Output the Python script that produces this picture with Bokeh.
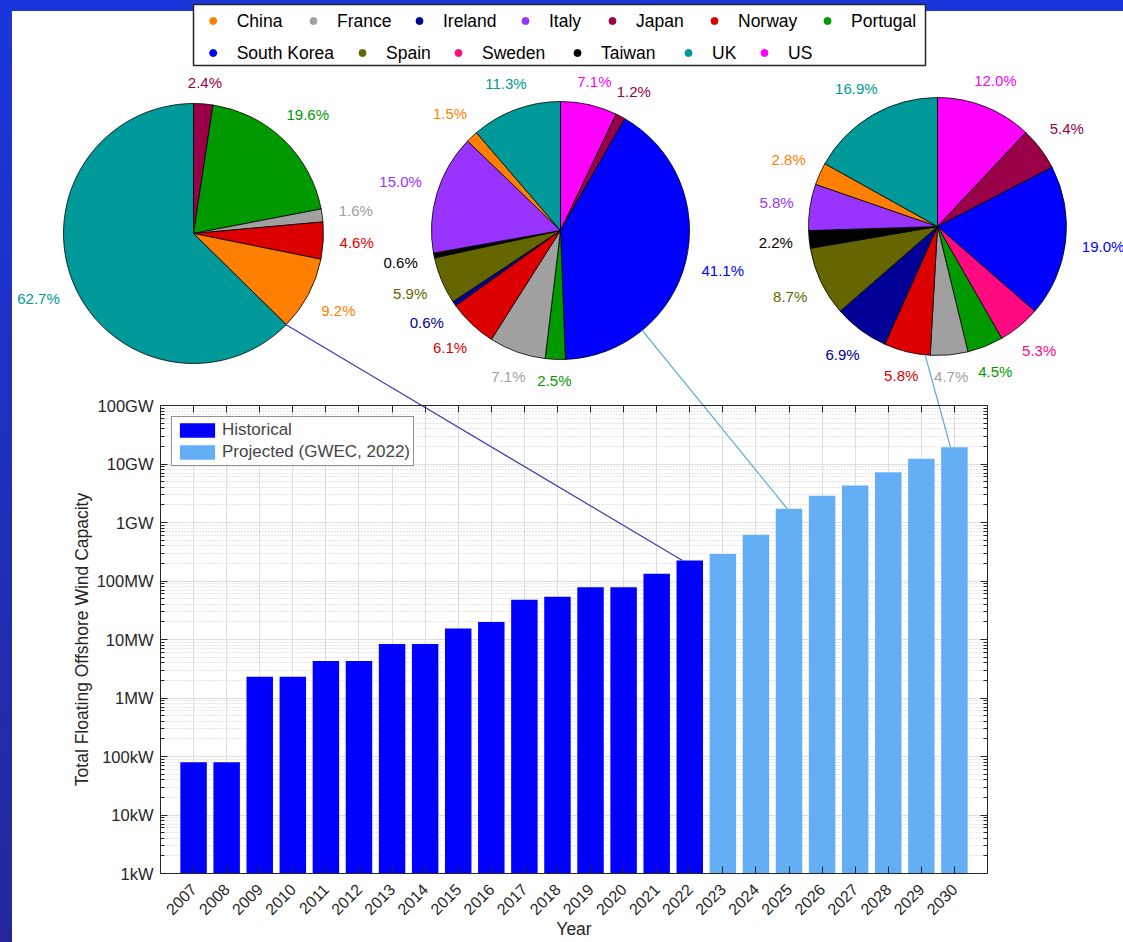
import math
from bokeh.plotting import figure
from bokeh.layouts import column
from bokeh.models import (Range1d, LogAxis, LinearAxis, FixedTicker, Legend,
                          LegendItem, ColumnDataSource)
from bokeh.core.properties import value
from bokeh.embed import file_html
from bokeh.resources import INLINE

FONT = "Liberation Sans"

# ---------------- data ----------------
years_hist = [2007, 2008, 2009, 2010, 2011, 2012, 2013, 2014,
              2015, 2016, 2017, 2018, 2019, 2020, 2021, 2022]
cap_hist_w = [8.0e4, 8.0e4, 2.3e6, 2.3e6, 4.3e6, 4.3e6, 8.4e6, 8.4e6,
              1.54e7, 2.0e7, 4.8e7, 5.4e7, 7.8e7, 7.8e7, 1.33e8, 2.24e8]
years_proj = [2023, 2024, 2025, 2026, 2027, 2028, 2029, 2030]
cap_proj_w = [2.9e8, 6.2e8, 1.71e9, 2.86e9, 4.3e9, 7.2e9, 1.23e10, 1.94e10]

x_tick_years = list(range(2007, 2031))
x_tick_labels = [str(y) for y in x_tick_years]
y_tick_values = [1e3, 1e4, 1e5, 1e6, 1e7, 1e8, 1e9, 1e10, 1e11]
y_tick_labels = ["1kW", "10kW", "100kW", "1MW", "10MW", "100MW", "1GW", "10GW", "100GW"]

legend_countries = ["China", "France", "Ireland", "Italy", "Japan", "Norway", "Portugal",
                    "South Korea", "Spain", "Sweden", "Taiwan", "UK", "US"]
legend_colors = ["#ff8000", "#a0a0a0", "#000096", "#9933ff", "#990047", "#dd0000", "#009900",
                 "#0000ff", "#666600", "#ff0a80", "#000000", "#009999", "#ff00ff"]

# slice order (clockwise from 12 o'clock)
pie_countries = ["US", "Japan", "South Korea", "Sweden", "Portugal", "France", "Norway",
                 "Ireland", "Spain", "Taiwan", "Italy", "China", "UK"]
share_2022 = [0.0, 2.4, 0.0, 0.0, 19.6, 1.6, 4.6, 0.0, 0.0, 0.0, 0.0, 9.2, 62.7]
share_2025 = [7.1, 1.2, 41.1, 0.0, 2.5, 7.1, 6.1, 0.6, 5.9, 0.6, 15.0, 1.5, 11.3]
share_2030 = [12.0, 5.4, 19.0, 5.3, 4.5, 4.7, 5.8, 6.9, 8.7, 2.2, 5.8, 2.8, 16.9]
pie_years = [2022, 2025, 2030]

# ---------------- layout constants (page pixels) ----------------
PAGE_W = 1123
PAGE_H = 942
FRAME_L, FRAME_R, FRAME_T, FRAME_B = 160, 987, 405, 873
TOP_H = FRAME_T            # pie canvas reaches the bar frame top
OVERLAP = 12               # bar canvas starts this much higher (room for the top tick label)
BOT_H = PAGE_H - TOP_H + OVERLAP
X0, X1 = 2006, 2031
LY0, LY1 = 3, 11

pie_centers = [(193, 233), (560, 230), (937, 226)]
pie_radius = [130, 129, 129]
conn_start_deg = [-44.6, -50.7, -95.5]
conn_end_dx = [-0.22, -0.05, -0.12]
conn_colors = ["#3a3ab4", "#5aa6d8", "#5aa6d8"]

legend_box = (193, 925, 4, 65)
legend_rows_y = [20.5, 52.5]
legend_row_x = [[212.7, 313, 419, 525, 612, 714, 827],
                [212.7, 362, 458, 577, 688, 764]]

LABEL_FS = 15

color_of = dict(zip(legend_countries, legend_colors))


def page_x(xd):
    return FRAME_L + (xd - X0) * (FRAME_R - FRAME_L) / (X1 - X0)


def page_y(v):
    return FRAME_T + (LY1 - math.log10(v)) * (FRAME_B - FRAME_T) / (LY1 - LY0)


def data_x(px):
    return X0 + (px - FRAME_L) * (X1 - X0) / (FRAME_R - FRAME_L)


def data_y(py):
    return 10 ** (LY1 - (py - FRAME_T) * (LY1 - LY0) / (FRAME_B - FRAME_T))


# ---------------- top figure: pies + legend ----------------
pt = figure(width=PAGE_W, height=TOP_H, x_range=Range1d(0, PAGE_W),
            y_range=Range1d(-TOP_H, 0), output_backend="svg",
            toolbar_location=None, x_axis_location=None, y_axis_location=None,
            min_border=0)
pt.grid.visible = False
pt.outline_line_color = None
pt.background_fill_alpha = 0
pt.border_fill_alpha = 0

all_year_cap = dict(zip(years_hist + years_proj, cap_hist_w + cap_proj_w))
conn_pts = []

for k, shares in enumerate([share_2022, share_2025, share_2030]):
    cx, cy = pie_centers[k]
    r = pie_radius[k]
    names = [c for c, s in zip(pie_countries, shares) if s > 0]
    vals = [s for s in shares if s > 0]
    total = sum(vals)
    starts, ends, cols = [], [], []
    lx, ly, lt = [], [], []
    cum = 0.0
    for name, v in zip(names, vals):
        a0 = math.pi / 2 - 2 * math.pi * cum / total
        cum += v
        a1 = math.pi / 2 - 2 * math.pi * cum / total
        starts.append(a1)
        ends.append(a0)
        cols.append(color_of[name])
        mid = (a0 + a1) / 2
        txt = "%.1f%%" % v
        ndig = sum(ch.isdigit() for ch in txt)
        w = LABEL_FS * (0.556 * ndig + 0.278 + 0.889)
        h = LABEL_FS * 0.93
        d = 1.1 * r + abs(math.cos(mid)) * (w / 2 + 3) + abs(math.sin(mid)) * h / 2
        lx.append(cx + d * math.cos(mid))
        ly.append(-cy + d * math.sin(mid))
        lt.append(txt)
    src = ColumnDataSource(dict(start=starts, end=ends, color=cols))
    pt.wedge(x=cx, y=-cy, radius=r, start_angle="start", end_angle="end",
             fill_color="color", line_color="black", line_width=0.8, source=src)
    lsrc = ColumnDataSource(dict(x=lx, y=ly, text=lt, color=cols))
    pt.text(x="x", y="y", text="text", text_color="color", source=lsrc,
            text_align="center", text_baseline="middle",
            text_font=value(FONT), text_font_size="%dpx" % LABEL_FS)

    # connector line (pie edge -> bar top)
    a = math.radians(conn_start_deg[k])
    sx, sy = cx + r * math.cos(a), cy - r * math.sin(a)
    yr = pie_years[k]
    ex, ey = page_x(yr + conn_end_dx[k]), page_y(all_year_cap[yr])
    pt.line(x=[sx, ex], y=[-sy, -ey], line_color=conn_colors[k], line_width=1.2)
    conn_pts.append((sx, sy, yr))

# legend of countries
bl, br, bt, bb = legend_box
pt.quad(left=bl, right=br, top=-bt, bottom=-bb, fill_color="white",
        line_color="#262626", line_width=1.5)
lg_x, lg_y, lg_c, lg_t, lg_tx = [], [], [], [], []
i = 0
for row, ys in enumerate(legend_rows_y):
    for xm in legend_row_x[row]:
        lg_x.append(xm)
        lg_y.append(-ys)
        lg_c.append(legend_colors[i])
        lg_t.append(legend_countries[i])
        lg_tx.append(xm + 23.5)
        i += 1
lgs = ColumnDataSource(dict(x=lg_x, y=lg_y, c=lg_c, t=lg_t, tx=lg_tx))
pt.scatter(x="x", y="y", size=7, fill_color="c", line_color="c", source=lgs)
pt.text(x="tx", y="y", text="t", source=lgs, text_align="left", text_baseline="middle",
        text_color="black", text_font=value(FONT), text_font_size="17.5px")

# ---------------- bottom figure: bars ----------------
pb = figure(width=PAGE_W, height=BOT_H, x_range=Range1d(X0, X1),
            y_range=Range1d(10 ** LY0, 10 ** LY1), y_axis_type="log",
            output_backend="svg", toolbar_location=None,
            min_border_left=FRAME_L, min_border_right=PAGE_W - FRAME_R,
            min_border_top=OVERLAP, min_border_bottom=PAGE_H - FRAME_B)
pb.margin = (-OVERLAP, 0, 0, 0)
pb.border_fill_alpha = 0
pb.background_fill_color = "white"
pb.outline_line_color = None

src_h = ColumnDataSource(dict(year=years_hist, cap=cap_hist_w))
src_p = ColumnDataSource(dict(year=years_proj, cap=cap_proj_w))
r_h = pb.vbar(x="year", top="cap", bottom=10 ** LY0, width=0.8, source=src_h,
              fill_color="#0000ff", line_color=None)
r_p = pb.vbar(x="year", top="cap", bottom=10 ** LY0, width=0.8, source=src_p,
              fill_color="#64aef5", line_color=None)

for k, (sx, sy, yr) in enumerate(conn_pts):
    pb.line(x=[data_x(sx), yr + conn_end_dx[k]], y=[data_y(sy), all_year_cap[yr]],
            line_color=conn_colors[k], line_width=1.2)

minor = [m * 10 ** e for e in range(LY0, LY1) for m in range(2, 10)]
yticker = FixedTicker(ticks=y_tick_values, minor_ticks=minor)
xticker = FixedTicker(ticks=x_tick_years)

AX = "#262626"
xa = pb.xaxis[0]
xa.ticker = xticker
xa.major_label_overrides = dict(zip(x_tick_years, x_tick_labels))
xa.major_label_orientation = math.pi / 4
xa.major_tick_in = 7
xa.major_tick_out = 0
xa.minor_tick_line_color = None
xa.axis_line_color = AX
xa.major_tick_line_color = AX
xa.major_label_text_font = FONT
xa.major_label_text_font_size = "16px"
xa.major_label_text_color = AX
xa.major_label_standoff = 13
xa.axis_label = "Year"
xa.axis_label_text_font = FONT
xa.axis_label_text_font_size = "17.5px"
xa.axis_label_text_font_style = "normal"
xa.axis_label_text_color = AX
xa.axis_label_standoff = -4

ya = pb.yaxis[0]
ya.ticker = yticker
ya.major_label_overrides = dict(zip(y_tick_values, y_tick_labels))
ya.major_tick_in = 7
ya.major_tick_out = 0
ya.minor_tick_in = 4
ya.minor_tick_out = 0
ya.axis_line_color = AX
ya.major_tick_line_color = AX
ya.minor_tick_line_color = AX
ya.major_label_text_font = FONT
ya.major_label_text_font_size = "16.5px"
ya.major_label_text_color = AX
ya.major_label_standoff = 7
ya.axis_label = "Total Floating Offshore Wind Capacity"
ya.axis_label_text_font = FONT
ya.axis_label_text_font_size = "17.5px"
ya.axis_label_text_font_style = "normal"
ya.axis_label_text_color = AX
ya.axis_label_standoff = 2

ra = LogAxis(ticker=yticker, major_tick_in=7, major_tick_out=0, minor_tick_in=4,
             minor_tick_out=0, axis_line_color=AX, major_tick_line_color=AX,
             minor_tick_line_color=AX, major_label_text_font_size="1px",
             major_label_text_alpha=0, major_label_standoff=0)
pb.add_layout(ra, "right")
ta = LinearAxis(ticker=xticker, major_tick_in=7, major_tick_out=0,
                minor_tick_line_color=None, axis_line_color=AX,
                major_tick_line_color=AX, major_label_text_font_size="1px",
                major_label_text_alpha=0, major_label_standoff=0)
pb.add_layout(ta, "above")

pb.xgrid.grid_line_color = "#dedede"
pb.ygrid.grid_line_color = "#dedede"
pb.ygrid.minor_grid_line_color = "#cccccc"
pb.ygrid.minor_grid_line_dash = "1 2"

leg = Legend(items=[LegendItem(label="Historical", renderers=[r_h]),
                    LegendItem(label="Projected (GWEC, 2022)", renderers=[r_p])],
             location="top_left", margin=11, padding=3, spacing=2,
             glyph_width=44, glyph_height=18, label_height=18, label_standoff=3,
             label_text_font=FONT, label_text_font_size="17px",
             border_line_color=AX, border_line_width=1, background_fill_alpha=1)
pb.add_layout(leg)

try:
    pt.frame_align = False
    pb.frame_align = False
    roots = column(pt, pb, spacing=0)
except AttributeError:
    roots = [pt, pb]

html = file_html(roots, INLINE)
css = ("<style>html{background:"
       "linear-gradient(#1b36da,#1b36da) 0 0/100% 11px no-repeat,"
       "linear-gradient(#1b37dc,#23279a) 0 0/12px 100% no-repeat,#ffffff;}"
       "body{background:transparent;}</style>")
html = html.replace("</head>", css + "</head>", 1)
open("out.html", "w").write(html)
